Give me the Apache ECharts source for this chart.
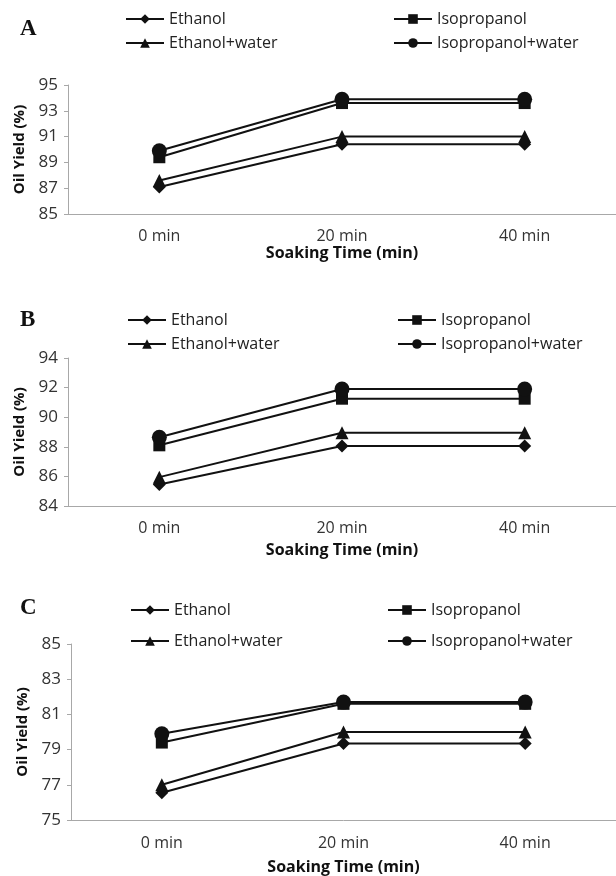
<!DOCTYPE html>
<html>
<head>
<meta charset="utf-8">
<title>Oil yield vs soaking time</title>
<script src="https://cdn.jsdelivr.net/npm/echarts@6/dist/echarts.min.js"></script>
<style>
    html, body { margin: 0; padding: 0; background: #fff; }
    #charts { width: 616px; height: 876px; }
</style>
</head>
<body>
<div id="charts"></div>
<script>
// categories and series names
var categories = ['0 min', '20 min', '40 min'];
var seriesNames = ['Ethanol', 'Isopropanol', 'Ethanol+water', 'Isopropanol+water'];
var panelLetters = ['A', 'B', 'C'];

// panel A
var aEthanol = [87.1, 90.4, 90.4];
var aIsopropanol = [89.4, 93.6, 93.6];
var aEthanolWater = [87.6, 91.0, 91.0];
var aIsopropanolWater = [89.9, 93.9, 93.9];
var aTicks = [85, 95, 2];

// panel B
var bEthanol = [85.45, 88.05, 88.05];
var bIsopropanol = [88.1, 91.25, 91.25];
var bEthanolWater = [85.95, 88.95, 88.95];
var bIsopropanolWater = [88.65, 91.9, 91.9];
var bTicks = [84, 94, 2];

// panel C
var cEthanol = [76.55, 79.35, 79.35];
var cIsopropanol = [79.4, 81.6, 81.6];
var cEthanolWater = [77.0, 80.0, 80.0];
var cIsopropanolWater = [79.9, 81.7, 81.7];
var cTicks = [75, 85, 2];

window.onload = function(){

    var myChart = echarts.init(document.getElementById('charts'));

    var panelData = [
        [aEthanol, aIsopropanol, aEthanolWater, aIsopropanolWater],
        [bEthanol, bIsopropanol, bEthanolWater, bIsopropanolWater],
        [cEthanol, cIsopropanol, cEthanolWater, cIsopropanolWater]
    ];
    var panelTicks = [aTicks, bTicks, cTicks];

    // layout of each panel (pixels)
    var layout = [
        {left: 68, top: 85,  height: 129, width: 560, labelMargin: 14, nameGap: 31, legendTop: 11,  rowGap: 8,  col1: 125, col2: 393, letterY: 30},
        {left: 68, top: 358, height: 148, width: 557, labelMargin: 14, nameGap: 36, legendTop: 312, rowGap: 8,  col1: 127, col2: 397, letterY: 321},
        {left: 71, top: 644, height: 176, width: 548, labelMargin: 15, nameGap: 39, legendTop: 602, rowGap: 15, col1: 130, col2: 387, letterY: 609}
    ];

    var symbols = ['diamond', 'rect', 'triangle', 'circle'];
    var symbolSizes = [13, 12, 13, 15];
    var ink = '#111';
    var axisGrey = '#a8a8a8';
    var font = '"Open Sans", "Noto Sans", sans-serif';

    var grid = [], xAxis = [], yAxis = [], series = [], legend = [], graphic = [];

    layout.forEach(function(p, i){
        grid.push({left: p.left, top: p.top, width: p.width, height: p.height});

        xAxis.push({
            type: 'category',
            gridIndex: i,
            data: categories,
            name: 'Soaking Time (min)',
            nameLocation: 'middle',
            nameGap: p.nameGap,
            nameTextStyle: {color: '#111', fontFamily: font, fontSize: 16, fontWeight: 'bold'},
            axisLine: {lineStyle: {color: axisGrey, width: 1}},
            axisTick: {length: 5, lineStyle: {color: axisGrey}},
            axisLabel: {color: '#333', fontFamily: font, fontSize: 16, margin: p.labelMargin},
            splitLine: {show: false}
        });

        yAxis.push({
            type: 'value',
            gridIndex: i,
            min: panelTicks[i][0],
            max: panelTicks[i][1],
            interval: panelTicks[i][2],
            name: 'Oil Yield (%)',
            nameLocation: 'middle',
            nameGap: 40,
            nameTextStyle: {color: '#111', fontFamily: font, fontSize: 15, fontWeight: 'bold'},
            axisLine: {show: true, lineStyle: {color: axisGrey, width: 1}},
            axisTick: {show: true, length: 4, lineStyle: {color: axisGrey}},
            axisLabel: {color: '#333', fontFamily: font, fontSize: 17, margin: 10},
            splitLine: {show: false}
        });

        seriesNames.forEach(function(name, k){
            series.push({
                name: name,
                type: 'line',
                xAxisIndex: i,
                yAxisIndex: i,
                data: panelData[i][k],
                symbol: symbols[k],
                symbolSize: symbolSizes[k],
                showAllSymbol: true,
                lineStyle: {color: ink, width: 2},
                itemStyle: {color: ink, borderWidth: 0},
                emphasis: {disabled: true},
                animation: false
            });
        });

        // two legend columns per panel
        [[0, 2, p.col1], [1, 3, p.col2]].forEach(function(c){
            legend.push({
                orient: 'vertical',
                left: c[2],
                top: p.legendTop,
                padding: 0,
                itemWidth: 38,
                itemHeight: 12,
                itemGap: p.rowGap,
                selectedMode: false,
                textStyle: {color: '#222', fontFamily: font, fontSize: 16, lineHeight: 16},
                data: [seriesNames[c[0]], seriesNames[c[1]]]
            });
        });

        graphic.push({
            type: 'text',
            left: 20,
            top: p.letterY - 12,
            style: {
                text: panelLetters[i],
                fill: '#111',
                font: 'bold 23px "Liberation Serif", "DejaVu Serif", serif'
            }
        });
    });

    var option = {
        backgroundColor: '#fff',
        animation: false,
        grid: grid,
        xAxis: xAxis,
        yAxis: yAxis,
        legend: legend,
        graphic: graphic,
        series: series
    };

    myChart.setOption(option);
};
</script>
</body>
</html>
